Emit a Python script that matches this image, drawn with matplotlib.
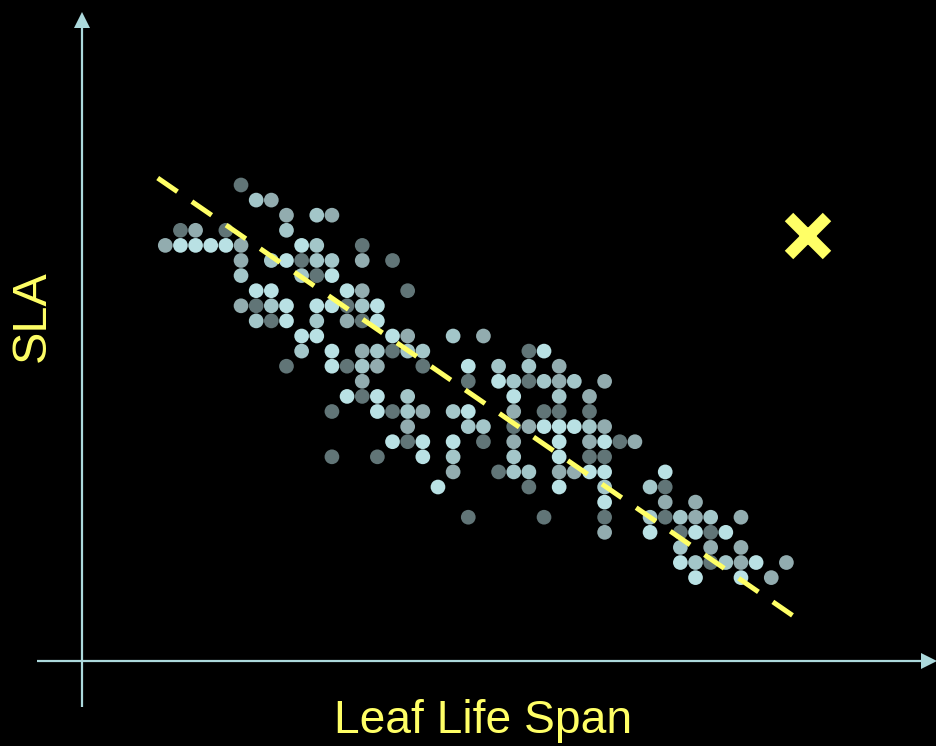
import matplotlib.pyplot as plt

# Values, in grid units of the dot lattice.
# Each row of dots shares one SLA level; leaf life span runs left -> right.
sla_levels = [30, 29, 28, 27, 26, 25, 24, 23, 22, 21, 20, 19, 18, 17,
              16, 15, 14, 13, 12, 11, 10, 9, 8, 7, 6, 5, 4]

leaf_span_by_row = [
    [5],
    [6, 7],
    [8, 10, 11],
    [1, 2, 4, 8],
    [0, 1, 2, 3, 4, 5, 9, 10, 13],
    [5, 7, 8, 9, 10, 11, 13, 15],
    [5, 9, 10, 11],
    [6, 7, 12, 13, 16],
    [5, 6, 7, 8, 10, 11, 12, 13, 14],
    [6, 7, 8, 10, 12, 13, 14],
    [9, 10, 15, 16, 19, 21],
    [9, 11, 13, 14, 15, 16, 17, 24, 25],
    [8, 11, 12, 13, 14, 17, 20, 22, 24, 26],
    [13, 20, 22, 23, 24, 25, 26, 27, 29],
    [12, 13, 14, 16, 23, 26, 28],
    [11, 14, 15, 16, 17, 19, 20, 23, 25, 26, 28],
    [16, 20, 21, 23, 24, 25, 26, 27, 28, 29],
    [15, 16, 17, 19, 21, 23, 26, 28, 29, 30, 31],
    [11, 14, 17, 19, 23, 26, 28, 29],
    [19, 22, 23, 24, 26, 27, 28, 29, 33],
    [18, 24, 26, 29, 32, 33],
    [29, 33, 35],
    [20, 25, 29, 32, 33, 34, 35, 36, 38],
    [29, 32, 34, 35, 36, 37],
    [34, 36, 38],
    [34, 35, 36, 37, 38, 39, 41],
    [35, 38, 40],
]

# dot shade per point: L light, A light-mid, M mid, D dark
tones_by_row = [
    "D", "AM", "MAM", "DMDA", "MLLLLMLAD", "MALDAAMD", "AADL", "LLLMD",
    "MDALLLDAL", "ADLAMDL", "LLLMAM", "ALMADAADL", "DLDAMDLAAM",
    "MDLADAMAM", "LDLALAM", "DLDAMALMDDD", "MAADMLLLAM", "LDLLDMLMLDM",
    "DDLAALDD", "MDAAMMLLL", "LDLAAD", "LMM", "DDDADAMAM", "MLDLDL",
    "AMM", "LADAMLM", "LLM",
]

trend_lls = [-0.5, 41.4]
trend_sla = [30.46, 1.5]

outlier_lls = [42.4]
outlier_sla = [26.6]

TONE_COLORS = {"L": "#b9e1e4", "A": "#a3c6c9", "M": "#92acaf", "D": "#617577"}
YELLOW = "#ffff66"
AXIS_COLOR = "#acd9dc"

xs, ys, cs = [], [], []
for level, cols, tones in zip(sla_levels, leaf_span_by_row, tones_by_row):
    for c, t in zip(cols, tones):
        xs.append(c)
        ys.append(level)
        cs.append(TONE_COLORS[t])

W, H = 937, 746
fig = plt.figure(figsize=(W / 100, H / 100), dpi=100, facecolor="black")

# ── decoration layer in pixel coordinates: axis arrows and labels ─────────
deco = fig.add_axes([0, 0, 1, 1])
deco.set_xlim(0, W)
deco.set_ylim(H, 0)
deco.set_facecolor("black")
deco.axis("off")

deco.plot([82.5, 82.5], [707, 24], color=AXIS_COLOR, lw=1.6,
          solid_capstyle="butt")
deco.plot([82.5], [19.5], marker="^", ms=11.5, color=AXIS_COLOR, mew=0)
deco.plot([37.5, 930], [661, 661], color=AXIS_COLOR, lw=1.6,
          solid_capstyle="butt")
deco.plot([929.5], [661], marker=">", ms=11.5, color=AXIS_COLOR, mew=0)

deco.text(483, 733, "Leaf Life Span", ha="center", va="baseline",
          fontsize=33.2, color=YELLOW, family="Liberation Sans")
deco.text(32.5, 316.5, "SLA", ha="center", va="center", rotation=90,
          fontsize=35, color=YELLOW, family="Liberation Sans")

# ── data layer ─────────────────────────────────────────────────────────────
ax = fig.add_axes([0, 0, 1, 1])
ax.set_xlim(-10.91, 50.94)
ax.set_ylim(-7.15, 42.25)
ax.patch.set_alpha(0)
ax.axis("off")

ax.scatter(xs, ys, s=112, c=cs, linewidths=0, zorder=2)
ax.plot(trend_lls, trend_sla, color=YELLOW, lw=3.6,
        linestyle=(0, (4.8, 3.5)), dash_capstyle="butt", zorder=3)
ax.plot(outlier_lls, outlier_sla, marker="x", ms=27, mew=8.6,
        color=YELLOW, linestyle="none", zorder=4)

fig.savefig("out.png", dpi=100, facecolor="black")
